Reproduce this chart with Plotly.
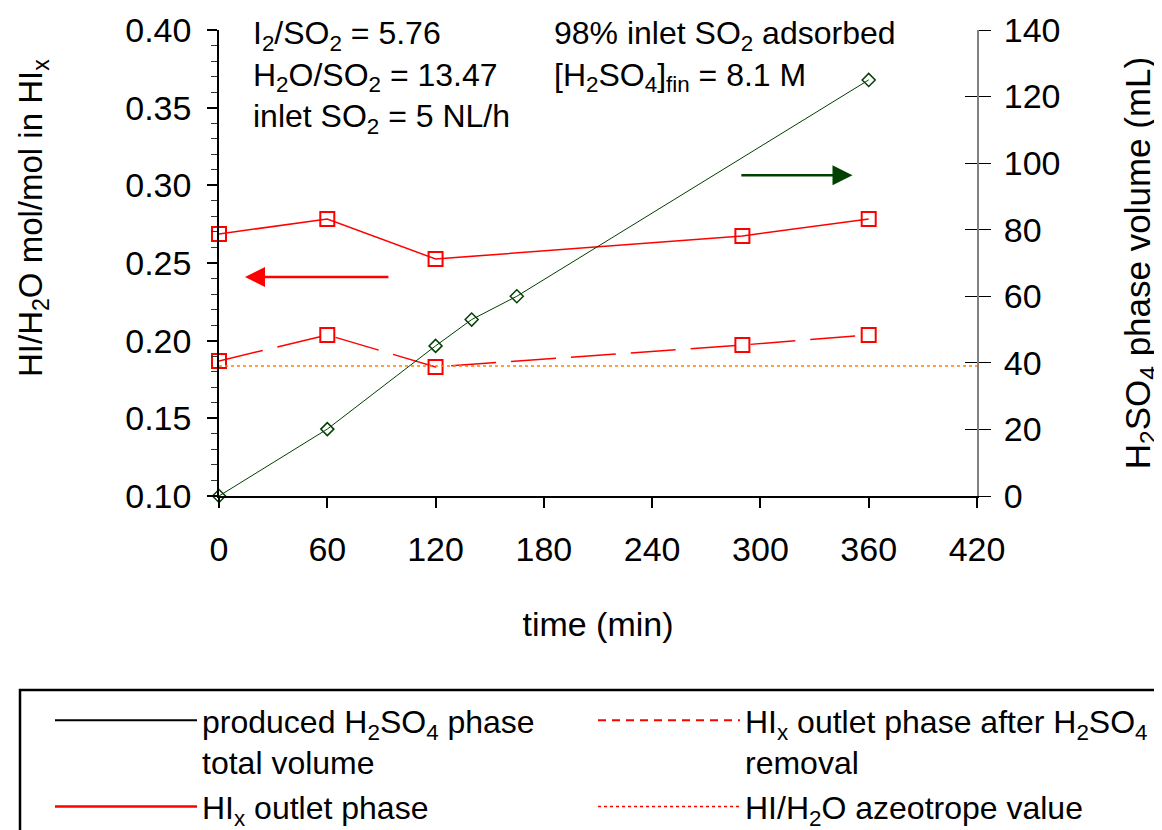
import plotly.graph_objects as go

# ---- data ----
t_hix = [0, 60, 120, 290, 360]
hix_outlet = [0.2687, 0.2783, 0.2526, 0.2674, 0.2783]
hix_after_removal = [0.1869, 0.2037, 0.1831, 0.1972, 0.2037]
t_vol = [0, 60, 120, 140, 165, 360]
h2so4_volume = [0, 20.1, 45.1, 53.0, 60.0, 125.0]
azeotrope_value = 0.1837
x_ticks = [0, 60, 120, 180, 240, 300, 360, 420]

FONT = "Liberation Sans, Arial, sans-serif"
RED = "#FF0000"
GREEN = "#004000"
ORANGE = "#FF8000"
# the page body has an 8px margin; figure size/margins compensate for it
W, H = 1154, 822
ML, MR, MT, MB = 211, 185, 22, 334
PW, PH = W - ML - MR, H - MT - MB
PLOT_LEFT, PLOT_BOTTOM = 8 + ML, 8 + H - MB


def px_x(px):
    return (px - PLOT_LEFT) / PW


def px_y(py):
    return (PLOT_BOTTOM - py) / PH


fig = go.Figure()

fig.add_trace(go.Scatter(
    x=t_hix, y=hix_outlet, mode="lines+markers", showlegend=False,
    line=dict(color=RED, width=1.5),
    marker=dict(symbol="square-open", size=14, color=RED, line=dict(width=2)),
    cliponaxis=False))
fig.add_trace(go.Scatter(
    x=t_hix, y=hix_after_removal, mode="lines+markers", showlegend=False,
    line=dict(color=RED, width=1.5, dash="45px,15px"),
    marker=dict(symbol="square-open", size=14, color=RED, line=dict(width=2)),
    cliponaxis=False))
fig.add_trace(go.Scatter(
    x=[0, 420], y=[azeotrope_value, azeotrope_value], mode="lines", showlegend=False,
    line=dict(color=ORANGE, width=1.5, dash="dot")))
fig.add_trace(go.Scatter(
    x=t_vol, y=h2so4_volume, mode="lines+markers", showlegend=False, yaxis="y2",
    line=dict(color=GREEN, width=1),
    marker=dict(symbol="diamond-open", size=10, color=GREEN, line=dict(width=1.5)),
    cliponaxis=False))

# legend entries (two columns -> two legends)
legend_items = [
    ("produced H<sub>2</sub>SO<sub>4</sub> phase<br>total volume", dict(color="black", width=2), "legend"),
    ("HI<sub>x</sub> outlet phase", dict(color=RED, width=2.5), "legend"),
    ("HI<sub>x</sub> outlet phase after H<sub>2</sub>SO<sub>4</sub><br>removal", dict(color=RED, width=2, dash="8px,6px"), "legend2"),
    ("HI/H<sub>2</sub>O azeotrope value", dict(color=RED, width=1.5, dash="dot"), "legend2"),
]
for name, ln, lg in legend_items:
    fig.add_trace(go.Scatter(x=[None], y=[None], mode="lines", name=name, line=ln, legend=lg))

# arrows
fig.add_annotation(x=14.4, y=0.241, ax=94.7, ay=0.241, xref="x", yref="y", axref="x", ayref="y",
                   text="", showarrow=True, arrowhead=2, arrowsize=1.6, arrowwidth=2.5, arrowcolor=RED)
fig.add_annotation(x=351, y=96.4, ax=288.6, ay=96.4, xref="x", yref="y2", axref="x", ayref="y2",
                   text="", showarrow=True, arrowhead=2, arrowsize=1.6, arrowwidth=2.5, arrowcolor=GREEN)

# text annotations
fig.add_annotation(x=px_x(251), y=px_y(13), xref="paper", yref="paper", xanchor="left", yanchor="top",
                   align="left", showarrow=False, font=dict(family=FONT, size=32, color="black"),
                   text="I<sub>2</sub>/SO<sub>2</sub> = 5.76<br>H<sub>2</sub>O/SO<sub>2</sub> = 13.47<br>inlet SO<sub>2</sub> = 5 NL/h")
fig.add_annotation(x=px_x(552), y=px_y(13), xref="paper", yref="paper", xanchor="left", yanchor="top",
                   align="left", showarrow=False, font=dict(family=FONT, size=32, color="black"),
                   text="98% inlet SO<sub>2</sub> adsorbed<br>[H<sub>2</sub>SO<sub>4</sub>]<sub>fin</sub> = 8.1 M")

# left axis title (placed as in the reference, above the axis centre)
fig.add_annotation(x=px_x(33), y=px_y(218), xref="paper", yref="paper", xanchor="center", yanchor="middle",
                   textangle=-90, showarrow=False, font=dict(family=FONT, size=33, color="black"),
                   text="HI/H<sub>2</sub>O mol/mol in HI<sub>x</sub>")

# legend frame
fig.add_shape(type="rect", xref="paper", yref="paper",
              x0=px_x(20), x1=px_x(1180), y0=px_y(690), y1=px_y(850),
              line=dict(color="black", width=2.5), fillcolor="rgba(0,0,0,0)", layer="above")

leg_common = dict(orientation="v", yanchor="top", xanchor="left", valign="top",
                  bgcolor="rgba(0,0,0,0)", borderwidth=0, itemwidth=142,
                  font=dict(family=FONT, size=32, color="black"), tracegroupgap=0)

fig.update_layout(
    width=W, height=H,
    margin=dict(l=ML, r=MR, t=MT, b=MB, autoexpand=False),
    plot_bgcolor="white", paper_bgcolor="white",
    font=dict(family=FONT, size=32, color="black"),
    xaxis=dict(range=[0, 420], tickvals=x_ticks, ticks="outside", ticklen=10, tickwidth=1.5,
               tickcolor="black", showline=True, linecolor="black", linewidth=1.5,
               showgrid=False, zeroline=False, ticklabelstandoff=12, automargin=False,
               tickfont=dict(size=34),
               title=dict(text="time (min)", font=dict(size=34), standoff=46)),
    yaxis=dict(range=[0.10, 0.40], dtick=0.05, tickformat=".2f", ticks="outside", ticklen=10,
               tickwidth=1.5, tickcolor="black", showline=True, linecolor="black", linewidth=1.5,
               showgrid=False, zeroline=False, ticklabelstandoff=9, tickfont=dict(size=34),
               automargin=False,
               minor=dict(dtick=0.01, ticks="outside", ticklen=6, tickwidth=1, tickcolor="#333333")),
    yaxis2=dict(range=[0, 140], dtick=20, overlaying="y", side="right", ticks="outside", ticklen=12,
                tickwidth=1.2, tickcolor="black", showline=True, linecolor="#808080", linewidth=2,
                showgrid=False, zeroline=False, ticklabelstandoff=6, tickfont=dict(size=34),
                automargin=False,
                title=dict(text="H<sub>2</sub>SO<sub>4</sub> phase volume (mL)", font=dict(size=35), standoff=82)),
    yaxis3=dict(range=[0, 140], dtick=20, overlaying="y", side="right", ticks="inside", ticklen=12,
                tickwidth=1.2, tickcolor="black", showticklabels=False, showline=False,
                showgrid=False, zeroline=False, automargin=False),
    legend=dict(x=px_x(50), y=px_y(693), **leg_common),
    legend2=dict(x=px_x(593), y=px_y(693), **leg_common),
)
# dummy trace to enable yaxis3 ticks
fig.add_trace(go.Scatter(x=[None], y=[None], yaxis="y3", showlegend=False))

fig.write_html("out.html")
